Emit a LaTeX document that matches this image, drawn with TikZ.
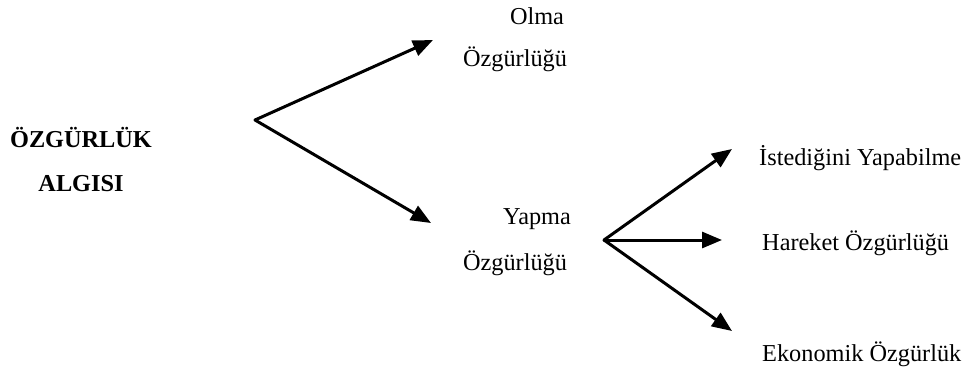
\documentclass[tikz,border=0pt]{standalone}
\usepackage{fontspec}
\setmainfont{Liberation Serif}
\usetikzlibrary{arrows.meta}
\begin{document}
\begin{tikzpicture}[x=1pt,y=-1pt,
  lbl/.style={inner sep=0pt,font=\fontsize{24.3}{28}\selectfont},
  arr/.style={line width=3pt,line cap=round,-{Triangle[length=20pt,width=16pt]}}]
\useasboundingbox (0,0) rectangle (969,370);
\node[lbl,font=\fontsize{24.3}{28}\selectfont\bfseries] (t1) at (81,138) {ÖZGÜRLÜK};
\node[lbl,font=\fontsize{24.3}{28}\selectfont\bfseries] (t2) at (81,184) {ALGISI};
\node[lbl] (o1) at (537,16) {Olma};
\node[lbl] (o2) at (515,59) {Özgürlüğü};
\node[lbl] (y1) at (537,219) {Yapma};
\node[lbl] (y2) at (515,263) {Özgürlüğü};
\node[lbl,anchor=west] (e1) at (759,158) {İstediğini Yapabilme};
\node[lbl,anchor=west] (e2) at (762,243) {Hareket Özgürlüğü};
\node[lbl,anchor=west] (e3) at (762,354) {Ekonomik Özgürlük};
\coordinate (A) at (255,120);
\coordinate (B) at (604,240);
\coordinate (a1) at (433,40);
\coordinate (a2) at (431,223);
\coordinate (b1) at (732,149);
\coordinate (b2) at (722,240);
\coordinate (b3) at (732,331);
\draw[arr] (A) -- (a1);
\draw[arr] (A) -- (a2);
\draw[arr] (B) -- (b1);
\draw[arr] (B) -- (b2);
\draw[arr] (B) -- (b3);
\end{tikzpicture}
\end{document}
